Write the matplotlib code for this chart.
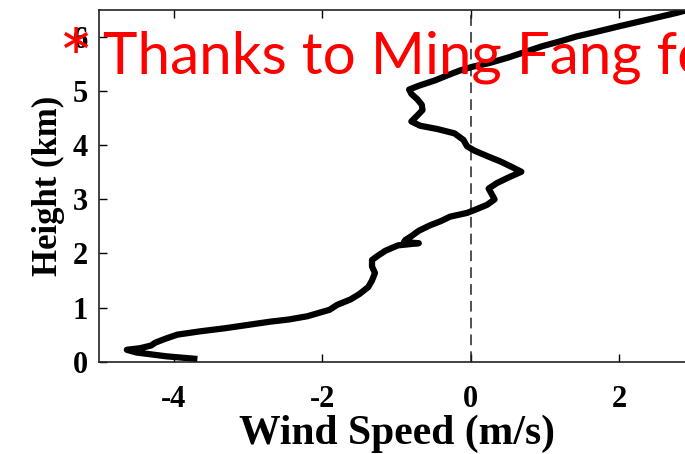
import matplotlib
matplotlib.use("Agg")
import matplotlib.pyplot as plt

# Vertical profile of wind speed
height_km = [0.05, 0.10, 0.17, 0.22, 0.25, 0.30, 0.35, 0.42, 0.50, 0.56,
             0.62, 0.68, 0.74, 0.78, 0.84, 0.90, 0.96, 1.05, 1.15, 1.25,
             1.38, 1.50, 1.64, 1.76, 1.88, 1.96, 2.05, 2.15, 2.19, 2.21,
             2.25, 2.32, 2.42, 2.52, 2.60, 2.68, 2.75, 2.82, 2.90, 3.00,
             3.10, 3.20, 3.30, 3.40, 3.51, 3.60, 3.70, 3.80, 3.90, 3.98,
             4.10, 4.22, 4.30, 4.36, 4.44, 4.55, 4.65, 4.75, 4.85, 4.95,
             5.03, 5.10, 5.20, 5.30, 5.38, 5.45, 5.52, 5.62, 5.72, 5.83,
             5.92, 6.01, 6.10, 6.20, 6.28, 6.36, 6.45, 6.55]
wind_speed = [-3.68, -4.10, -4.50, -4.63, -4.45, -4.30, -4.25, -4.12, -3.95, -3.65,
              -3.30, -3.00, -2.70, -2.45, -2.20, -2.05, -1.90, -1.80, -1.62, -1.50,
              -1.38, -1.33, -1.29, -1.33, -1.33, -1.25, -1.15, -0.98, -0.70, -0.90,
              -0.88, -0.80, -0.70, -0.55, -0.40, -0.28, -0.05, 0.08, 0.22, 0.32,
              0.28, 0.24, 0.35, 0.50, 0.68, 0.55, 0.40, 0.22, 0.05, -0.05,
              -0.10, -0.22, -0.45, -0.68, -0.80, -0.72, -0.65, -0.66, -0.72, -0.80,
              -0.83, -0.70, -0.48, -0.30, -0.15, 0.02, 0.25, 0.50, 0.72, 0.96,
              1.20, 1.42, 1.70, 2.00, 2.25, 2.50, 2.78, 3.05]

x_ticks = [-4, -2, 0, 2]
y_ticks = [0, 1, 2, 3, 4, 5, 6]

fig = plt.figure(figsize=(6.85, 4.54), dpi=100)
ax = fig.add_axes([0.145, 0.2033, 0.8677, 0.7747])

ax.axvline(0, color="#222222", lw=1.1, ls=(0, (7, 4)))
ax.plot(wind_speed, height_km, color="black", lw=4.5,
        solid_joinstyle="round", solid_capstyle="butt")

ax.set_xlim(-5, 3)
ax.set_ylim(0, 6.5)
ax.set_xticks(x_ticks)
ax.set_yticks(y_ticks)

serif = "Liberation Serif"
ax.set_xticklabels([str(v) for v in x_ticks], fontfamily=serif,
                   fontweight="bold", fontsize=22)
ax.set_yticklabels([str(v) for v in y_ticks], fontfamily=serif,
                   fontweight="bold", fontsize=22)
ax.tick_params(axis="both", direction="in", length=6, width=1,
               top=True, right=True)
ax.tick_params(axis="x", pad=17)
ax.tick_params(axis="y", pad=8)
for s in ax.spines.values():
    s.set_linewidth(1.2)
    s.set_color("#222222")

ax.set_xlabel("Wind Speed (m/s)", fontfamily=serif, fontweight="bold",
              fontsize=30, labelpad=0)
ax.set_ylabel("Height (km)", fontfamily=serif, fontweight="bold",
              fontsize=25, labelpad=6)

fig.text(0.084, 0.806, "*", color="#ff0000", fontfamily="Lato",
         fontsize=58, ha="left", va="baseline")
fig.text(0.150, 0.839, "Thanks to Ming Fang for", color="#ff0000",
         fontfamily="Lato", fontsize=42, ha="left", va="baseline")

fig.savefig("out.png", dpi=100)
